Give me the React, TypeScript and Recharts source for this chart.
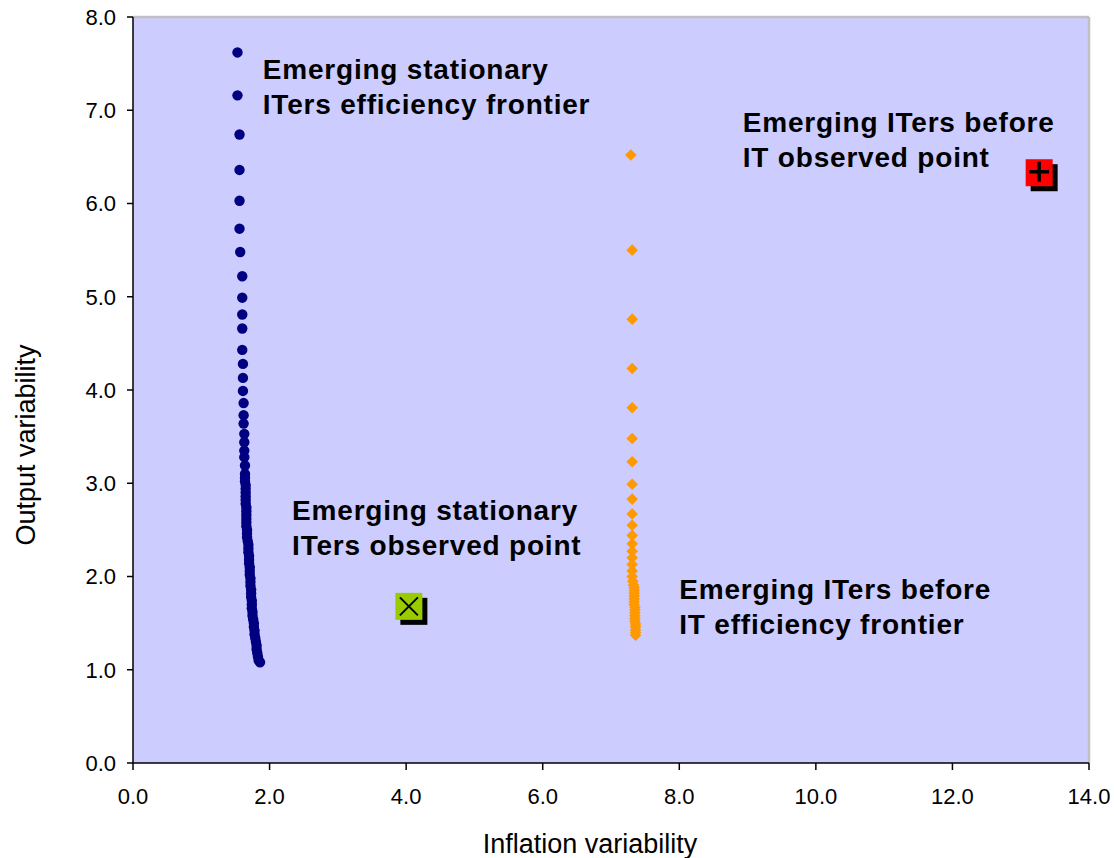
import { ScatterChart, Scatter, XAxis, YAxis, CartesianGrid, ReferenceLine } from "recharts"

// Emerging stationary ITers efficiency frontier
const stationaryFrontier = [
  { x: 1.53, y: 7.62 }, { x: 1.53, y: 7.16 }, { x: 1.56, y: 6.74 }, { x: 1.56, y: 6.36 },
  { x: 1.56, y: 6.03 }, { x: 1.56, y: 5.73 }, { x: 1.57, y: 5.48 }, { x: 1.6, y: 5.22 },
  { x: 1.6, y: 4.99 }, { x: 1.6, y: 4.81 }, { x: 1.6, y: 4.66 }, { x: 1.6, y: 4.43 },
  { x: 1.61, y: 4.28 }, { x: 1.61, y: 4.13 }, { x: 1.61, y: 3.99 }, { x: 1.62, y: 3.86 },
  { x: 1.62, y: 3.73 }, { x: 1.62, y: 3.64 }, { x: 1.63, y: 3.53 }, { x: 1.63, y: 3.44 },
  { x: 1.63, y: 3.35 }, { x: 1.63, y: 3.28 }, { x: 1.64, y: 3.19 }, { x: 1.64, y: 3.1 },
  { x: 1.64, y: 3.06 }, { x: 1.64, y: 3.02 }, { x: 1.65, y: 2.98 }, { x: 1.65, y: 2.94 },
  { x: 1.65, y: 2.9 }, { x: 1.65, y: 2.86 }, { x: 1.65, y: 2.82 }, { x: 1.65, y: 2.78 },
  { x: 1.66, y: 2.74 }, { x: 1.66, y: 2.7 }, { x: 1.66, y: 2.66 }, { x: 1.66, y: 2.62 },
  { x: 1.66, y: 2.58 }, { x: 1.66, y: 2.54 }, { x: 1.67, y: 2.5 }, { x: 1.67, y: 2.46 },
  { x: 1.67, y: 2.42 }, { x: 1.68, y: 2.38 }, { x: 1.69, y: 2.34 }, { x: 1.69, y: 2.3 },
  { x: 1.69, y: 2.26 }, { x: 1.7, y: 2.22 }, { x: 1.7, y: 2.18 }, { x: 1.7, y: 2.14 },
  { x: 1.71, y: 2.1 }, { x: 1.71, y: 2.06 }, { x: 1.71, y: 2.02 }, { x: 1.72, y: 1.98 },
  { x: 1.72, y: 1.94 }, { x: 1.72, y: 1.9 }, { x: 1.73, y: 1.86 }, { x: 1.73, y: 1.82 },
  { x: 1.73, y: 1.78 }, { x: 1.74, y: 1.74 }, { x: 1.74, y: 1.7 }, { x: 1.74, y: 1.66 },
  { x: 1.75, y: 1.62 }, { x: 1.75, y: 1.58 }, { x: 1.76, y: 1.54 }, { x: 1.77, y: 1.5 },
  { x: 1.77, y: 1.46 }, { x: 1.78, y: 1.42 }, { x: 1.78, y: 1.38 }, { x: 1.79, y: 1.34 },
  { x: 1.8, y: 1.3 }, { x: 1.81, y: 1.26 }, { x: 1.81, y: 1.22 }, { x: 1.82, y: 1.18 },
  { x: 1.83, y: 1.14 }, { x: 1.84, y: 1.1 }, { x: 1.86, y: 1.08 },
]

// Emerging ITers before IT efficiency frontier
const beforeItFrontier = [
  { x: 7.29, y: 6.52 }, { x: 7.31, y: 5.5 }, { x: 7.31, y: 4.76 }, { x: 7.31, y: 4.23 },
  { x: 7.31, y: 3.81 }, { x: 7.31, y: 3.48 }, { x: 7.31, y: 3.23 }, { x: 7.31, y: 2.99 },
  { x: 7.31, y: 2.83 }, { x: 7.31, y: 2.67 }, { x: 7.31, y: 2.55 }, { x: 7.31, y: 2.44 },
  { x: 7.31, y: 2.35 }, { x: 7.31, y: 2.27 }, { x: 7.31, y: 2.2 }, { x: 7.31, y: 2.13 },
  { x: 7.31, y: 2.06 }, { x: 7.31, y: 2.0 }, { x: 7.32, y: 1.95 }, { x: 7.33, y: 1.91 },
  { x: 7.34, y: 1.88 }, { x: 7.34, y: 1.85 }, { x: 7.34, y: 1.82 }, { x: 7.34, y: 1.79 },
  { x: 7.34, y: 1.76 }, { x: 7.34, y: 1.73 }, { x: 7.34, y: 1.7 }, { x: 7.35, y: 1.67 },
  { x: 7.35, y: 1.64 }, { x: 7.35, y: 1.61 }, { x: 7.35, y: 1.58 }, { x: 7.35, y: 1.55 },
  { x: 7.35, y: 1.52 }, { x: 7.36, y: 1.49 }, { x: 7.36, y: 1.46 }, { x: 7.36, y: 1.43 },
  { x: 7.36, y: 1.4 }, { x: 7.36, y: 1.37 },
]

const stationaryObserved = [{ x: 4.04, y: 1.68 }]
const beforeItObserved = [{ x: 13.27, y: 6.33 }]

const xTicks = [0, 2, 4, 6, 8, 10, 12, 14]
const yTicks = [0, 1, 2, 3, 4, 5, 6, 7, 8]

const notes = [
  { x: 1.9, y: 7.33, lines: ["Emerging stationary", "ITers efficiency frontier"] },
  { x: 8.93, y: 6.77, lines: ["Emerging ITers before", "IT observed point"] },
  { x: 2.33, y: 2.61, lines: ["Emerging stationary", "ITers observed point"] },
  { x: 8.0, y: 1.76, lines: ["Emerging ITers before", "IT efficiency frontier"] },
]

const font = "'Liberation Sans', Arial, sans-serif"

const Dot = (p: any) => <circle cx={p.cx} cy={p.cy} r={5.2} fill="#000080" />

const Diamond = (p: any) => {
  const h = 5.8
  return (
    <path
      d={`M${p.cx},${p.cy - h}L${p.cx + h},${p.cy}L${p.cx},${p.cy + h}L${p.cx - h},${p.cy}Z`}
      fill="#FF9900"
    />
  )
}

const CrossBox = (p: any) => {
  const s = 13.5
  const a = 9
  return (
    <g>
      <rect x={p.cx - s + 5} y={p.cy - s + 5} width={s * 2} height={s * 2} fill="#000" />
      <rect x={p.cx - s} y={p.cy - s} width={s * 2} height={s * 2} fill="#99CC00" />
      <path d={`M${p.cx - a},${p.cy - a}L${p.cx + a},${p.cy + a}M${p.cx + a},${p.cy - a}L${p.cx - a},${p.cy + a}`} stroke="#000" strokeWidth={2} />
    </g>
  )
}

const PlusBox = (p: any) => {
  const s = 13.5
  const a = 10
  return (
    <g>
      <rect x={p.cx - s + 5} y={p.cy - s + 5} width={s * 2} height={s * 2} fill="#000" />
      <rect x={p.cx - s} y={p.cy - s} width={s * 2} height={s * 2} fill="#FF0000" />
      <path d={`M${p.cx - a},${p.cy - 1}L${p.cx + a},${p.cy - 1}M${p.cx},${p.cy - a - 1}L${p.cx},${p.cy + a - 1}`} stroke="#000" strokeWidth={3.5} />
    </g>
  )
}

const Note = (p: any) => (
  <text x={p.cx} y={p.cy} fontFamily={font} fontWeight="bold" fontSize={28} letterSpacing={0.8} fill="#000">
    {p.payload.lines.map((l: string, i: number) => (
      <tspan key={i} x={p.cx} dy={i === 0 ? 0 : 35}>{l}</tspan>
    ))}
  </text>
)

export default function App() {
  return (
    <div style={{ position: "absolute", left: 0, top: 0 }}>
      <ScatterChart width={1114} height={858} margin={{ top: 17, right: 25, bottom: 0, left: 0 }}>
        <CartesianGrid fill="#CCCCFF" horizontal={false} vertical={false} />
        <XAxis
          type="number"
          dataKey="x"
          domain={[0, 14]}
          ticks={xTicks}
          height={95}
          tickFormatter={(v: number) => v.toFixed(1)}
          tick={{ fill: "#000", fontSize: 22, fontFamily: font }}
          stroke="#000"
          strokeWidth={1.5}
          tickSize={7}
          tickMargin={18}
          label={{
            content: (p: any) => (
              <text x={p.viewBox.x + 457} y={p.viewBox.y + 90} textAnchor="middle" fontFamily={font} fontSize={27} fill="#000">
                Inflation variability
              </text>
            ),
          }}
        />
        <YAxis
          type="number"
          dataKey="y"
          domain={[0, 8]}
          ticks={yTicks}
          width={133}
          tickFormatter={(v: number) => v.toFixed(1)}
          tick={{ fill: "#000", fontSize: 22, fontFamily: font }}
          stroke="#000"
          strokeWidth={1.5}
          tickSize={6}
          tickMargin={11}
          label={{
            content: (p: any) => {
              const cx = p.viewBox.x + 26
              const cy = p.viewBox.y + 428
              return (
                <text x={cx} y={cy} transform={`rotate(-90 ${cx} ${cy})`} textAnchor="middle" dominantBaseline="central" fontFamily={font} fontSize={27} fill="#000">
                  Output variability
                </text>
              )
            },
          }}
        />
        <ReferenceLine y={8} stroke="#C0C0C0" strokeWidth={2.5} />
        <ReferenceLine x={14} stroke="#C0C0C0" strokeWidth={2.5} />
        <Scatter data={stationaryFrontier} shape={Dot} isAnimationActive={false} />
        <Scatter data={beforeItFrontier} shape={Diamond} isAnimationActive={false} />
        <Scatter data={stationaryObserved} shape={CrossBox} isAnimationActive={false} />
        <Scatter data={beforeItObserved} shape={PlusBox} isAnimationActive={false} />
        <Scatter data={notes} shape={Note} isAnimationActive={false} />
      </ScatterChart>
    </div>
  )
}
